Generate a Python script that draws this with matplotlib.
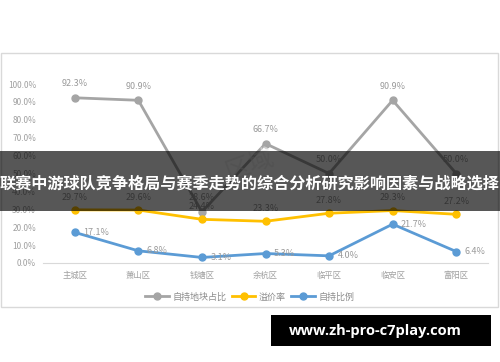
import matplotlib.pyplot as plt
from matplotlib.patches import Rectangle

plt.rcParams['font.family'] = ['Noto Sans CJK SC', 'DejaVu Sans']

districts = ['主城区', '萧山区', '钱塘区', '余杭区', '临平区', '临安区', '富阳区']
self_land = [92.3, 90.9, 28.6, 66.7, 50.0, 90.9, 50.0]
premium = [29.7, 29.6, 24.4, 23.3, 27.8, 29.3, 27.2]
self_ratio = [17.1, 6.8, 3.1, 5.3, 4.0, 21.7, 6.4]
series_names = ['自持地块占比', '溢价率', '自持比例']
title = '联赛中游球队竞争格局与赛季走势的综合分析研究影响因素与战略选择'
site = 'www.zh-pro-c7play.com'

fig = plt.figure(figsize=(5, 3.62), dpi=100)
fig.patch.set_facecolor('white')

# panel border
fig.patches.append(Rectangle((0.002, 1 - 307 / 362), 0.994, (307 - 53) / 362,
                             transform=fig.transFigure, fill=False,
                             edgecolor='#d9d9d9', linewidth=1))

ax = fig.add_axes([43 / 500, 1 - 263 / 362, 445 / 500, (263 - 84) / 362])
x = range(len(districts))
lc = '#a5a5a5'
ax.plot(x, self_land, color=lc, lw=2, marker='o', ms=5, label=series_names[0])
ax.plot(x, premium, color='#ffc000', lw=2, marker='o', ms=5, label=series_names[1])
ax.plot(x, self_ratio, color='#5b9bd5', lw=2, marker='o', ms=5, label=series_names[2])

tc = '#9a9a9a'
for i, v in enumerate(self_land):
    ax.annotate(f'{v:.1f}%', (i, v), xytext=(0, 7), textcoords='offset points',
                ha='center', va='bottom', fontsize=6.5, color=tc)
for i, v in enumerate(premium):
    ax.annotate(f'{v:.1f}%', (i, v), xytext=(0, 6), textcoords='offset points',
                ha='center', va='bottom', fontsize=6.5, color=tc)
for i, v in enumerate(self_ratio):
    ax.annotate(f'{v:.1f}%', (i, v), xytext=(6, 0), textcoords='offset points',
                ha='left', va='center', fontsize=6.5, color=tc)

ax.set_xlim(-0.5, len(districts) - 0.5)
ax.set_ylim(0, 100)
ax.set_yticks(range(0, 101, 10))
ax.set_yticklabels([f'{t:.1f}%' for t in range(0, 101, 10)])
ax.set_xticks(list(x))
ax.set_xticklabels(districts)
ax.tick_params(axis='both', length=0, labelsize=6, colors='#a0a0a0')
ax.tick_params(axis='y', pad=5)
ax.tick_params(axis='x', pad=6)
for s in ['top', 'right', 'left']:
    ax.spines[s].set_visible(False)
ax.spines['bottom'].set_color('#d9d9d9')

leg = fig.legend(loc='center', bbox_to_anchor=(0.5, 1 - 297 / 362), ncol=3,
                 frameon=False, fontsize=6.5, handlelength=2.6, columnspacing=0.6,
                 handletextpad=0.4)
for t in leg.get_texts():
    t.set_color('#8c8c8c')

# faint watermark
fig.text(0.5, 1 - 165 / 362, '区域', fontsize=18, color='#e6e6e6', rotation=20,
         ha='center', va='center', alpha=0.6)

# dark banner with title
fig.patches.append(Rectangle((0, 1 - 211 / 362), 1, 60 / 362, transform=fig.transFigure,
                             facecolor='black', alpha=0.66, edgecolor='none', zorder=5))
fig.text(0.5, 1 - 184 / 362, title, color='white', fontsize=11.6, fontweight='bold',
         ha='center', va='center', zorder=6)

# site box
fig.patches.append(Rectangle((271 / 500, 1 - 346 / 362), 220 / 500, 31 / 362,
                             transform=fig.transFigure, facecolor='black',
                             edgecolor='none'))
fig.text(375 / 500, 1 - 331 / 362, site, color='white', fontsize=10.5,
         fontweight='bold', ha='center', va='center', family=['Open Sans', 'DejaVu Sans'])

fig.savefig('out.png', dpi=100)
